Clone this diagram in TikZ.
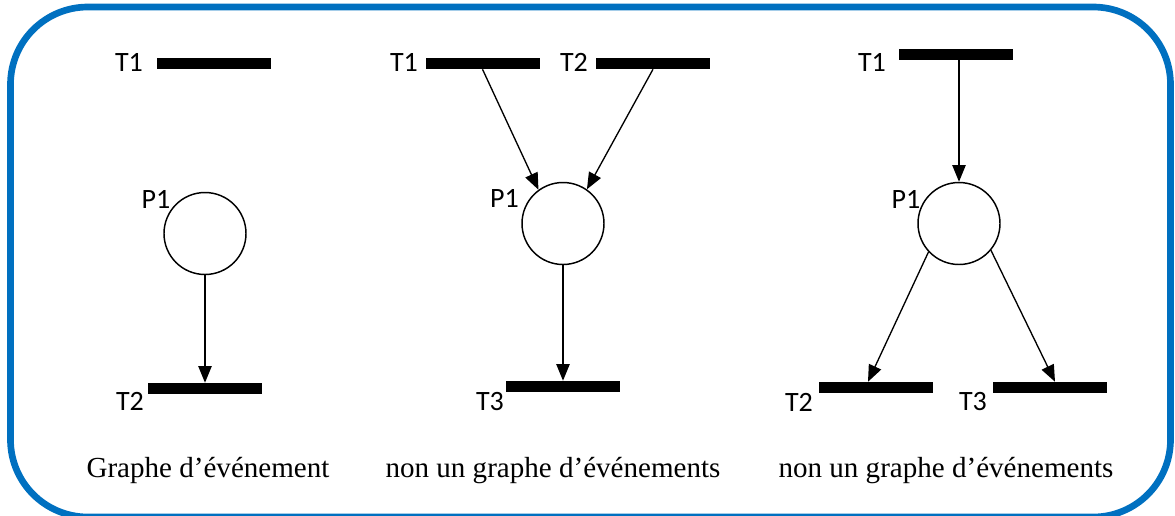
\documentclass[tikz,border=0pt]{standalone}
\usepackage{fontspec}
\setmainfont{Liberation Serif}
\setsansfont{Carlito}
\usetikzlibrary{arrows.meta}
\definecolor{frameblue}{RGB}{0,112,192}

\begin{document}
\begin{tikzpicture}[x=.75pt,y=-.75pt,
  trans/.style={fill=black,inner sep=0pt,minimum width=85.5pt,minimum height=8.25pt},
  place/.style={circle,draw,line width=1.1pt,inner sep=0pt,minimum size=61.5pt},
  lbl/.style={font=\sffamily\fontsize{21}{24}\selectfont,inner sep=0pt},
  captxt/.style={font=\fontsize{21.8}{26}\selectfont,inner sep=0pt,anchor=base},
  arc/.style={-{Triangle[length=12.5pt,width=10pt]},line width=1pt}]
  \useasboundingbox (0,0) rectangle (1175,515);
  \draw[frameblue,line width=5pt,rounded corners=58pt]
    (10.5,7) rectangle (1170.5,517);
  % graphe d'evenement
  \node[trans] (T1a) at (213.5,63.5) {};
  \node[place] (P1a) at (205,233.5) {};
  \node[trans] (T2a) at (205,388.5) {};
  \node[lbl] (t1a) at (129,62) {T1};
  \node[lbl] (p1a) at (156,199) {P1};
  \node[lbl] (t2a) at (130,401) {T2};
  \draw[arc] (P1a) -- (T2a);
  \node[captxt] (capa) at (208,477) {Graphe d’événement};
  % deux transitions en entree
  \node[trans] (T1b) at (482.5,63.5) {};
  \node[trans] (T2b) at (653,63.5) {};
  \node[place] (P1b) at (563,223.5) {};
  \node[trans] (T3b) at (563,386.5) {};
  \node[lbl] (t1b) at (404,62) {T1};
  \node[lbl] (t2b) at (574,62) {T2};
  \node[lbl] (p1b) at (504.5,198) {P1};
  \node[lbl] (t3b) at (490,402) {T3};
  \draw[arc] (T1b.south) -- (P1b.126);
  \draw[arc] (T2b.south) -- (P1b.55);
  \draw[arc] (P1b) -- (T3b);
  \node[captxt] (capb) at (553,477) {non un graphe d’événements};
  % deux transitions en sortie
  \node[trans] (T1c) at (956,54.5) {};
  \node[place] (P1c) at (959,223.5) {};
  \node[trans] (T2c) at (876,387.5) {};
  \node[trans] (T3c) at (1050,387.5) {};
  \node[lbl] (t1c) at (872,62) {T1};
  \node[lbl] (p1c) at (906,199) {P1};
  \node[lbl] (t2c) at (799,402) {T2};
  \node[lbl] (t3c) at (973,402) {T3};
  \draw[arc] (T1c.south -| P1c.north) -- (P1c.north);
  \draw[arc] (P1c.223) -- ([xshift=-6pt]T2c.north);
  \draw[arc] (P1c.320) -- ([xshift=3.75pt]T3c.north);
  \node[captxt] (capc) at (946,477) {non un graphe d’événements};
\end{tikzpicture}
\end{document}
